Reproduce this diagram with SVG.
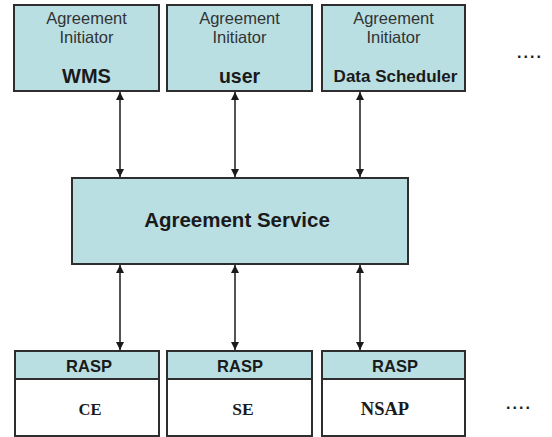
<svg xmlns="http://www.w3.org/2000/svg" width="552" height="437" viewBox="0 0 552 437">
<style>
.box{fill:#b9dfe3;stroke:#2e2e2e;stroke-width:2}
.wbox{fill:#ffffff;stroke:#2e2e2e;stroke-width:2}
.lbl{font-family:"Liberation Sans",Arial,sans-serif;font-size:16.5px;fill:#333;text-anchor:middle}
.bl{font-family:"Liberation Sans",Arial,sans-serif;font-weight:bold;fill:#1a1a1a;text-anchor:middle}
.sr{font-family:"Liberation Serif","Times New Roman",serif;font-weight:bold;fill:#1a1a1a;text-anchor:middle}
.conn{stroke:#1a1a1a;stroke-width:1.5;fill:none;marker-start:url(#ah);marker-end:url(#ah)}
</style>
<defs>
<marker id="ah" viewBox="0 0 10 10" refX="10" refY="5" markerWidth="8" markerHeight="8" markerUnits="userSpaceOnUse" orient="auto-start-reverse">
<path d="M0,0 L10,5 L0,10 z" fill="#1a1a1a"/>
</marker>
</defs>
<rect width="552" height="437" fill="#ffffff"/>
<g id="init-wms">
<rect class="box" x="14" y="5" width="145" height="86"/>
<text class="lbl" x="86.5" y="24">Agreement</text>
<text class="lbl" x="86.5" y="43">Initiator</text>
<text class="bl" x="86.5" y="83" font-size="20">WMS</text>
</g>
<g id="init-user">
<rect class="box" x="167" y="5" width="145" height="86"/>
<text class="lbl" x="239.5" y="24">Agreement</text>
<text class="lbl" x="239.5" y="43">Initiator</text>
<text class="bl" x="239.5" y="83" font-size="19.5">user</text>
</g>
<g id="init-ds">
<rect class="box" x="322" y="5" width="143" height="86"/>
<text class="lbl" x="393.5" y="24">Agreement</text>
<text class="lbl" x="393.5" y="43">Initiator</text>
<text class="bl" x="395.5" y="82" font-size="17">Data Scheduler</text>
</g>
<g id="dots-top">
<text class="bl" x="530" y="58" font-size="16" letter-spacing="2">....</text>
</g>
<g id="agreement-service">
<rect class="box" x="72" y="178" width="336" height="86"/>
<text class="bl" x="237" y="227" font-size="20.5">Agreement Service</text>
</g>
<g id="rasp-ce">
<rect class="wbox" x="15" y="351" width="144" height="85"/>
<rect class="box" x="15" y="351" width="144" height="28"/>
<text class="bl" x="89" y="371.5" font-size="16.5">RASP</text>
<text class="sr" x="90" y="415" font-size="16.5">CE</text>
</g>
<g id="rasp-se">
<rect class="wbox" x="167" y="351" width="145" height="85"/>
<rect class="box" x="167" y="351" width="145" height="28"/>
<text class="bl" x="240" y="371.5" font-size="16.5">RASP</text>
<text class="sr" x="243" y="415" font-size="17.5">SE</text>
</g>
<g id="rasp-nsap">
<rect class="wbox" x="322" y="351" width="143" height="85"/>
<rect class="box" x="322" y="351" width="143" height="28"/>
<text class="bl" x="395" y="371.5" font-size="16.5">RASP</text>
<text class="sr" x="385" y="415" font-size="18.5">NSAP</text>
</g>
<g id="dots-bottom">
<text class="bl" x="519" y="409" font-size="16" letter-spacing="2">....</text>
</g>
<g id="connectors">
<line class="conn" x1="120" y1="92" x2="120" y2="177"/>
<line class="conn" x1="235" y1="92" x2="235" y2="177"/>
<line class="conn" x1="360" y1="92" x2="360" y2="177"/>
<line class="conn" x1="120" y1="265" x2="120" y2="350"/>
<line class="conn" x1="235" y1="265" x2="235" y2="350"/>
<line class="conn" x1="360" y1="265" x2="360" y2="350"/>
</g>
</svg>
